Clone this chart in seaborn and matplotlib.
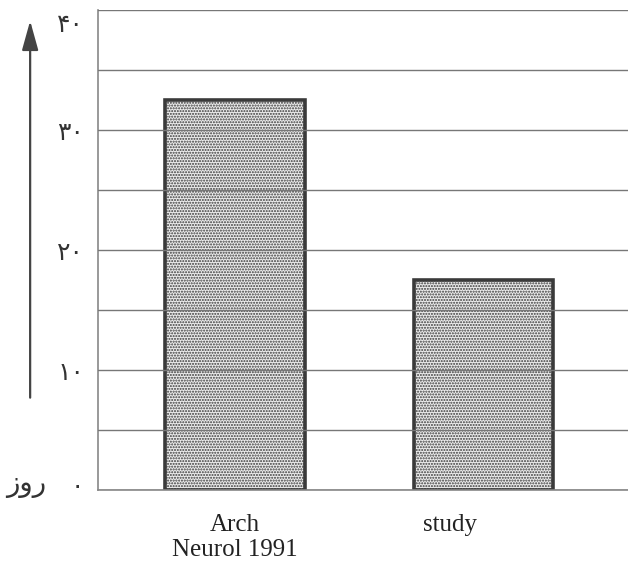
"""
Bar chart: days (روز), Arch Neurol 1991 vs study
"""

import numpy as np
import pandas as pd
import matplotlib.pyplot as plt
import matplotlib.transforms as mtransforms
import seaborn as sns

sns.set_theme(style="white")
plt.rcParams['font.family'] = ['DejaVu Sans']

# ============================================================
# DATA
# ============================================================

CATEGORIES = ["Arch\nNeurol 1991", "study"]
VALUES = [32.5, 17.5]
Y_TICKS = [0, 10, 20, 30, 40]
Y_TICK_LABELS = ["۰", "۱۰", "۲۰", "۳۰", "۴۰"]
UNIT_LABEL = "روز"

df = pd.DataFrame({"group": CATEGORIES, "days": VALUES})

# ============================================================
# Plot
# ============================================================

fig = plt.figure(figsize=(6.28, 5.64), dpi=100)
ax = fig.add_axes([0.156, 0.131, 0.844, 0.851])

sns.barplot(data=df, x="group", y="days", ax=ax, width=0.56,
            color="#ececec", saturation=1, edgecolor="#3a3a3a",
            linewidth=2.6, zorder=2)

plt.rcParams['hatch.linewidth'] = 0.7
for patch in ax.patches:
    patch.set_hatch("......")
    if hasattr(patch, "set_hatchcolor"):
        patch.set_hatchcolor("#9a9a9a")

ax.set_ylim(0, 40)
ax.set_xlim(-0.55, 1.58)
ax.yaxis.grid(True, color="#777777", linewidth=1.0, zorder=3)
ax.set_axisbelow(False)
ax.set_yticks(Y_TICKS + [5, 15, 25, 35])
ax.set_yticklabels(Y_TICK_LABELS + [""] * 4, fontsize=18, color="#333333")
ax.tick_params(axis="y", length=0, pad=10)
ax.tick_params(axis="x", length=0, pad=17)

# the top label sits a little lower than its gridline
yl = ax.get_yticklabels()[4]
yl.set_transform(yl.get_transform() +
                 mtransforms.ScaledTranslation(0, -0.12, fig.dpi_scale_trans))
yl = ax.get_yticklabels()[0]
yl.set_transform(yl.get_transform() +
                 mtransforms.ScaledTranslation(0, 0.06, fig.dpi_scale_trans))

for lbl in ax.get_xticklabels():
    lbl.set_family("Liberation Serif")
    lbl.set_fontsize(18)
    lbl.set_color("#222222")
    lbl.set_linespacing(1.2)

# the 'study' label sits a bit left of its bar
xl = ax.get_xticklabels()[1]
xl.set_transform(xl.get_transform() +
                 mtransforms.ScaledTranslation(-0.34, 0, fig.dpi_scale_trans))

ax.set_xlabel("")
ax.set_ylabel("")

for side in ["top", "right"]:
    ax.spines[side].set_visible(False)
for side in ["left", "bottom"]:
    ax.spines[side].set_color("#888888")
    ax.spines[side].set_linewidth(1.2)

# unit label (matplotlib has no bidi, so write in visual order)
fig.text(0.010, 0.142, UNIT_LABEL[::-1], fontsize=20, color="#333333",
         va="center", ha="left")

# arrow on the left
fig.add_artist(plt.matplotlib.patches.FancyArrowPatch(
    (0.048, 0.29), (0.048, 0.968), transform=fig.transFigure,
    arrowstyle="-|>,head_length=18,head_width=5", color="#444444",
    linewidth=1.6))

plt.savefig("out.png", dpi=100)
